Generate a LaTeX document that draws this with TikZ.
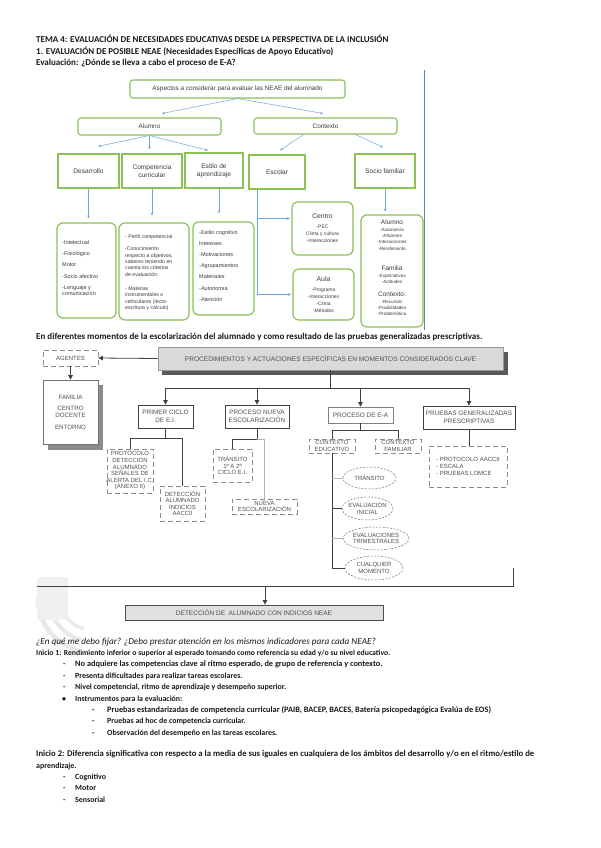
\documentclass[tikz,border=0pt]{standalone}
\usepackage{fontspec}
\setmainfont{Carlito}
\newfontfamily\arialf{Liberation Sans}
\usetikzlibrary{arrows.meta,shapes.geometric}
\definecolor{gbox}{RGB}{140,192,88}
\definecolor{barr}{RGB}{110,165,220}
\definecolor{dtxt}{RGB}{60,60,60}
\definecolor{ktxt}{RGB}{80,80,80}
\newcommand\myfs[2]{\fontsize{#1}{#2}\selectfont}
\begin{document}
\begin{tikzpicture}[x=1pt,y=-1pt,
 body/.style={anchor=west,inner sep=0pt,text height=6pt,text depth=2pt,font=\myfs{7.9}{9}\bfseries,text=black!90},
 head/.style={body,font=\myfs{9}{10}\bfseries},
 gr/.style={draw=gbox,line width=1.1pt,rounded corners=3pt,fill=white,inner sep=0pt,font=\arialf\myfs{6.4}{7.5},text=dtxt,align=center},
 gsq/.style={draw=gbox,line width=1.4pt,fill=white,inner sep=0pt,font=\arialf\myfs{6.6}{8},text=dtxt,align=center},
 gdet/.style={draw=gbox,line width=1.2pt,rounded corners=6pt,inner sep=0pt,text=dtxt,align=center,font=\arialf\myfs{5}{7}},
 dtx/.style={inner sep=0pt,text=dtxt,font=\arialf\myfs{5.5}{6.2},align=left,anchor=north west},
 barrow/.style={draw=barr,line width=0.5pt,-{Stealth[length=3pt,width=2.6pt]}},
 kbox/.style={draw=black!75,line width=0.8pt,fill=white,inner sep=0pt,align=center,font=\arialf\myfs{6.4}{7.6},text=ktxt},
 dbox/.style={draw=black!45,dash pattern=on 5pt off 3pt,line width=0.8pt,inner sep=0pt,align=center,font=\arialf\myfs{6}{6.6},text=ktxt},
 ell/.style={ellipse,draw=black!55,dash pattern=on 2pt off 1.5pt,line width=0.5pt,inner xsep=-6pt,inner ysep=-2pt,align=center,font=\arialf\myfs{6}{6.8},text=ktxt},
 kl/.style={draw=black!75,line width=0.8pt},
 kll/.style={draw=black!30,line width=0.8pt},
 tri/.style={kl,-{Triangle[length=4.5pt,width=4.5pt]}}
]
\fill[white] (0,0) rectangle (600,848);
\useasboundingbox (0,0) rectangle (600,848);

% ---------- headings ----------
\node[head] (h1) at (36,41) {TEMA 4: EVALUACIÓN DE NECESIDADES EDUCATIVAS DESDE LA PERSPECTIVA DE LA INCLUSIÓN};
\node[head] (h2) at (36,53) {1. EVALUACIÓN DE POSIBLE NEAE (Necesidades Específicas de Apoyo Educativo)};
\node[head] (h3) at (36,64) {Evaluación: ¿Dónde se lleva a cabo el proceso de E-A?};

% ---------- first diagram ----------
\coordinate (rb1) at (424,70); \coordinate (rb2) at (424,330);
\draw[barr!80!black,line width=0.8pt] (rb1) -- (rb2);

\node[gr,minimum width=215pt,minimum height=18pt] (top) at (237.5,89) {Aspectos a considerar para evaluar las NEAE del alumnado};
\node[gr,minimum width=143pt,minimum height=17pt] (alumno) at (149.5,126.5) {Alumno};
\node[gr,minimum width=143pt,minimum height=16pt] (contexto) at (325.5,126) {Contexto};

\node[gsq,minimum width=61pt,minimum height=34pt] (desarrollo) at (88.5,171) {Desarrollo};
\node[gsq,minimum width=60pt,minimum height=34pt] (competencia) at (152,171) {Competencia\\curricular};
\node[gsq,minimum width=58pt,minimum height=35pt] (estilo) at (214,170.5) {Estilo de\\aprendizaje};
\node[gsq,minimum width=56pt,minimum height=34pt] (escolar) at (277,172) {Escolar};
\node[gsq,minimum width=60pt,minimum height=34pt] (sociofam) at (385,171) {Socio familiar};

\node[gdet,minimum width=59pt,minimum height=95pt] (desdet) at (86.5,270.5) {};
\node[gdet,minimum width=70pt,minimum height=97pt] (compdet) at (154,271.5) {};
\node[gdet,minimum width=61pt,minimum height=93pt] (estdet) at (223.5,268.5) {};
\node[gdet,minimum width=61pt,minimum height=53pt] (centro) at (322.5,228.5) {{\myfs{6.8}{7}Centro}\\[3pt]-PEC\\Clima y cultura\\-Interacciones};
\node[gdet,minimum width=61pt,minimum height=51pt] (aula) at (323.5,294.5) {{\myfs{6.8}{7}Aula}\\[3pt]-Programa\\-Interacciones\\-Clima\\-Métodos};
\node[gdet,minimum width=62pt,minimum height=112pt] (sfdet) at (392,271) {};

\node[dtx] (desT) at (62,240) {-Intelectual\\[5.1pt]-Fisiológico\\[5.1pt]Motor\\[5.1pt]-Socio afectivo\\[5.1pt]-Lenguaje y\\comunicación};
\node[dtx,font=\arialf\myfs{5.2}{6.4}] (compT) at (125,235) {- Perfil competencial\\[5.4pt]-Conocimiento\\respecto a objetivos,\\saberes teniendo en\\cuenta los criterios\\de evaluación.\\[7.5pt]- Materias\\instrumentales o\\vehiculares (lecto-\\escritura y cálculo)};
\node[dtx] (estT) at (199,230) {-Estilo cognitivo\\[5pt]Intereses\\[5pt]-Motivaciones\\[5pt]-Agrupamientos\\[5pt]Materiales\\[5pt]-Autonomía\\[5pt]-Atención};

\node[inner sep=0pt,align=center,text=dtxt,font=\arialf\myfs{4.6}{6.3},anchor=north] (sfA) at (392,220) {{\myfs{6.5}{7}Alumno}\\-Autonomía\\-Aficiones\\-Interacciones\\-Rendimiento};
\node[inner sep=0pt,align=center,text=dtxt,font=\arialf\myfs{4.6}{6.3},anchor=north] (sfF) at (392,266) {{\myfs{6.5}{7}Familia}\\-Expectativas\\-Actitudes};
\node[inner sep=0pt,align=center,text=dtxt,font=\arialf\myfs{4.6}{6.3},anchor=north] (sfC) at (392,292) {{\myfs{6.5}{8}Contexto:}\\-Recursos\\-Posibilidades\\-Problemática};

\coordinate (ta) at ([xshift=12.5pt,yshift=4pt]alumno.north);
\coordinate (tc) at ([xshift=-2.5pt,yshift=4pt]contexto.north);
\draw[barrow] (top.south) -- (ta);
\draw[barrow] (top.south) -- (tc);
\draw[barrow] (alumno.south) -- ([xshift=9.5pt,yshift=7pt]desarrollo.north);
\draw[barrow,shorten >=4pt] (alumno.south) -- (alumno.south |- competencia.north);
\draw[barrow] (alumno.south) -- ([xshift=-6pt,yshift=2pt]estilo.north);
\draw[barrow] ([xshift=-22pt]contexto.south) -- ([xshift=3pt,yshift=4pt]escolar.north);
\draw[barrow] ([xshift=30pt]contexto.south) -- ([xshift=-2pt,yshift=6pt]sociofam.north);

\draw[barrow,shorten >=4pt] (desarrollo.south) -- (desarrollo.south |- desdet.north);
\draw[barrow,shorten >=7pt] (competencia.south) -- (competencia.south |- compdet.north);
\coordinate (es0) at ([xshift=5pt]estilo.south);
\draw[barrow,shorten >=8pt] (es0) -- (es0 |- estdet.north);
\coordinate (esc0) at ([xshift=-20pt]escolar.south);
\coordinate (cen0) at ([yshift=10pt]centro.west);
\draw[barrow,shorten >=1.5pt] (esc0) |- (cen0);
\draw[barrow,shorten >=1.5pt] (esc0) |- (aula.west);
\draw[barrow,shorten >=3pt] (sociofam.south) -- (sociofam.south |- sfdet.north);

% ---------- second heading ----------
\node[head] (h4) at (36,337) {En diferentes momentos de la escolarización del alumnado y como resultado de las pruebas generalizadas prescriptivas.};

% ---------- faint logo ----------
\coordinate (lg) at (92,598);
\draw[black!9,line width=4.5pt] ([xshift=-54pt]lg) arc[start angle=180,end angle=255,radius=54pt];
\draw[black!9,line width=4pt] ([xshift=-43pt]lg) arc[start angle=180,end angle=255,radius=43pt];
\draw[black!8,line width=3.5pt] ([xshift=-32pt]lg) arc[start angle=180,end angle=255,radius=32pt];
\fill[black!6] (37,577) rectangle (68,620);

% ---------- second diagram ----------
\fill[black!65] (162,352) rectangle (508,375);
\node[kbox,fill=black!15,draw=black!40,minimum width=345pt,minimum height=23pt,font=\arialf\myfs{6.6}{7}] (proc) at (330.5,358.5) {PROCEDIMIENTOS Y ACTUACIONES ESPECÍFICAS EN MOMENTOS CONSIDERADOS CLAVE};
\node[dbox,minimum width=55pt,minimum height=16pt] (ag) at (70.5,358) {AGENTES};
\fill[black!45] (48,385) rectangle (103,450);
\node[kbox,draw=black!55,line width=0.6pt,minimum width=55pt,minimum height=64pt,font=\arialf\myfs{6.2}{7.4}] (fam) at (70.5,412) {FAMILIA\\[4pt]CENTRO\\DOCENTE\\[4pt]ENTORNO};

\node[kbox,minimum width=55pt,minimum height=23pt] (pc) at (165.5,416.5) {PRIMER CICLO\\DE E.I.};
\node[kbox,minimum width=64pt,minimum height=23pt] (pn) at (257,416.5) {PROCESO NUEVA\\ESCOLARIZACIÓN};
\node[kbox,draw=black!50,line width=0.6pt,minimum width=65pt,minimum height=16pt] (pea) at (360.5,415) {PROCESO DE E-A};
\node[kbox,minimum width=92pt,minimum height=23pt] (pr) at (469,417.5) {PRUEBAS GENERALIZADAS\\PRESCRIPTIVAS};

\node[dbox,minimum width=46pt,minimum height=44pt] (prot) at (130,471) {PROTOCOLO\\DETECCIÓN\\ALUMNADO\\SEÑALES DE\\\makebox[0pt][c]{ALERTA DEL I.C.}\\(ANEXO II)};
\node[dbox,minimum width=45pt,minimum height=35pt] (det1) at (182.5,503.5) {DETECCIÓN\\ALUMNADO\\INDICIOS\\AACCII};
\node[dbox,minimum width=39pt,minimum height=33pt] (tr) at (232.5,465.5) {TRÁNSITO\\1º A 2º\\CICLO E.I.};
\node[dbox,minimum width=65pt,minimum height=15pt] (ne) at (264.5,506.5) {NUEVA\\ESCOLARIZACIÓN};
\node[dbox,minimum width=46pt,minimum height=14pt] (ce) at (332,446) {CONTEXTO\\EDUCATIVO};
\node[dbox,minimum width=46pt,minimum height=14pt] (cf) at (398,446) {CONTEXTO\\FAMILIAR};
\node[dbox,minimum width=78pt,minimum height=41pt,align=left] (prd) at (468,466.5) {- PROTOCOLO AACCII\\- ESCALA\\- PRUEBAS LOMCE};

\node[ell,minimum width=53pt,minimum height=22pt] (e1) at (369.5,478) {TRÁNSITO};
\node[ell,minimum width=51pt,minimum height=23pt] (e2) at (367.5,508.5) {EVALUACIÓN\\INICIAL};
\node[ell,minimum width=66pt,minimum height=23pt] (e3) at (376,538.5) {EVALUACIONES\\TRIMESTRALES};
\node[ell,minimum width=58pt,minimum height=24pt] (e4) at (374,568) {CUALQUIER\\MOMENTO};

\node[kbox,fill=black!12,draw=black!70,minimum width=258pt,minimum height=15pt,font=\arialf\myfs{6.5}{7}] (det) at (254,612.5) {DETECCIÓN DE\ \ ALUMNADO CON INDICIOS NEAE};

\draw[tri] (proc.west) -- (ag.east);
\draw[tri] (ag.south) -- (fam.north);
\path (proc.south) ++(0,17.5) coordinate (pj);
\draw[kl] (proc.south) -- (pj);
\draw[kl] (pj -| pc.north) -- (pj -| pr.north);
\draw[tri] (pj -| pc.north) -- (pc.north);
\draw[tri] (pj -| pn.north) -- (pn.north);
\draw[tri] (pj -| pea.north) -- (pea.north);
\draw[tri] (pj -| pr.north) -- (pr.north);

\path (pc.south) ++(0,10) coordinate (pcj);
\draw[kl] (pc.south) -- (pcj);
\draw[kl] (prot.north) |- (pcj) -| (det1.north);
\path (pn.south) ++(0,11) coordinate (pnj);
\draw[kl] (pn.south) -- (pnj);
\draw[kl] (tr.north) |- (pnj);
\draw[kll] (pnj) -| (ne.north);
\path (pea.south) ++(0,7) coordinate (peaj);
\draw[kl] (pea.south) -- (peaj);
\draw[kl] (ce.north) |- (peaj) -| (cf.north);
\draw[kl] (ce.south) |- (e4.west);
\draw[kll] (ce.south |- e1.west) -- (e1.west);
\draw[kl] (ce.south |- e2.west) -- (e2.west);
\draw[kll] (ce.south |- e3.west) -- (e3.west);
\draw[kl] (pr.south) -- (pr.south |- prd.north);

\coordinate (bl) at (37,586); \coordinate (br) at (513,586); \coordinate (brt) at (513,568);
\draw[kl] (bl) -- (br) -- (brt);
\coordinate (dt) at ([xshift=11pt]det.north);
\draw[tri] (dt |- bl) -- (dt);

% ---------- body text ----------
\node[body,font=\myfs{9.2}{10}\itshape] (q1) at (36,642) {¿En qué me debo fijar? ¿Debo prestar atención en los mismos indicadores para cada NEAE?};
\node[body,font=\myfs{7.75}{9}\bfseries] (i1) at (36,653.4) {Inicio 1: Rendimiento inferior o superior al esperado tomando como referencia su edad y/o su nivel educativo.};
\node[body] (d1) at (63,664.8) {-}; \node[body,font=\myfs{8.3}{9}\bfseries] (l1) at (75,664.8) {No adquiere las competencias clave al ritmo esperado, de grupo de referencia y contexto.};
\node[body] (d2) at (63,676.2) {-}; \node[body] (l2) at (75,676.2) {Presenta dificultades para realizar tareas escolares.};
\node[body] (d3) at (63,687.6) {-}; \node[body] (l3) at (75,687.6) {Nivel competencial, ritmo de aprendizaje y desempeño superior.};
\node[body] (d4) at (62,699) {\textbullet}; \node[body] (l4) at (75,699) {Instrumentos para la evaluación:};
\node[body] (d5) at (92,710.4) {-}; \node[body,font=\myfs{8.3}{9}\bfseries] (l5) at (107,710.4) {Pruebas estandarizadas de competencia curricular (PAIB, BACEP, BACES, Batería psicopedagógica Evalúa de EOS)};
\node[body] (d6) at (92,721.8) {-}; \node[body] (l6) at (107,721.8) {Pruebas ad hoc de competencia curricular.};
\node[body] (d7) at (92,733.2) {-}; \node[body] (l7) at (107,733.2) {Observación del desempeño en las tareas escolares.};
\node[body,font=\myfs{8.7}{9}\bfseries] (i2) at (36,754.5) {Inicio 2: Diferencia significativa con respecto a la media de sus iguales en cualquiera de los ámbitos del desarrollo y/o en el ritmo/estilo de};
\node[body] (i2b) at (36,766) {aprendizaje.};
\node[body] (d8) at (63,777.4) {-}; \node[body] (l8) at (75,777.4) {Cognitivo};
\node[body] (d9) at (63,788.8) {-}; \node[body] (l9) at (75,788.8) {Motor};
\node[body] (d10) at (63,800.2) {-}; \node[body] (l10) at (75,800.2) {Sensorial};
\end{tikzpicture}
\end{document}
